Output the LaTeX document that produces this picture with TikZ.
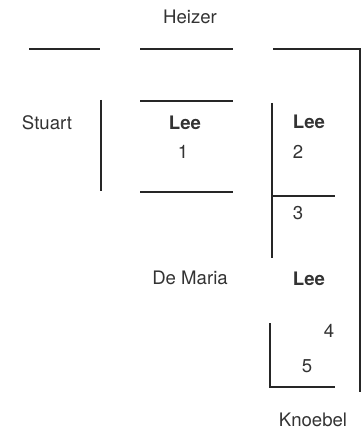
\documentclass[tikz,border=0pt]{standalone}
\usepackage{fontspec}
\setmainfont{TeX Gyre Heros}
\begin{document}
\begin{tikzpicture}[x=1pt,y=-1pt,
  lbl/.style={text=black!80, font=\fontsize{18.6}{22}\selectfont, inner sep=0pt, anchor=center},
  bold/.style={lbl, font=\fontsize{18.6}{22}\selectfont\bfseries},
  rule/.style={draw=black!85, line width=1.2pt}]
\useasboundingbox (0,0) rectangle (362,430);
% labels
\node[lbl] (heizer) at (190,17) {Heizer};
\node[lbl] (stuart) at (47,123) {Stuart};
\node[bold] (lee1) at (185,123) {Lee};
\node[lbl] (n1) at (183,152) {1};
\node[bold] (lee2) at (309,122) {Lee};
\node[lbl] (n2) at (298,152) {2};
\node[lbl] (n3) at (298,213) {3};
\node[lbl] (demaria) at (190,278) {De Maria};
\node[bold] (lee3) at (309,279) {Lee};
\node[lbl] (n4) at (329,331) {4};
\node[lbl] (n5) at (307,366) {5};
\node[lbl] (knoebel) at (313,420) {Knoebel};
% rules
\draw[rule] (29,49) -- (100,49);
\draw[rule] (140,49) -- (233,49);
\draw[rule] (273,49) -- (360,49) -- (360,392);
\draw[rule] (101,100) -- (101,191);
\draw[rule] (140,101) -- (233,101);
\draw[rule] (140,192) -- (233,192);
\draw[rule] (272,103) -- (272,258);
\draw[rule] (272,196) -- (335,196);
\draw[rule] (270,323) -- (270,387) -- (335,387);
\end{tikzpicture}
\end{document}
